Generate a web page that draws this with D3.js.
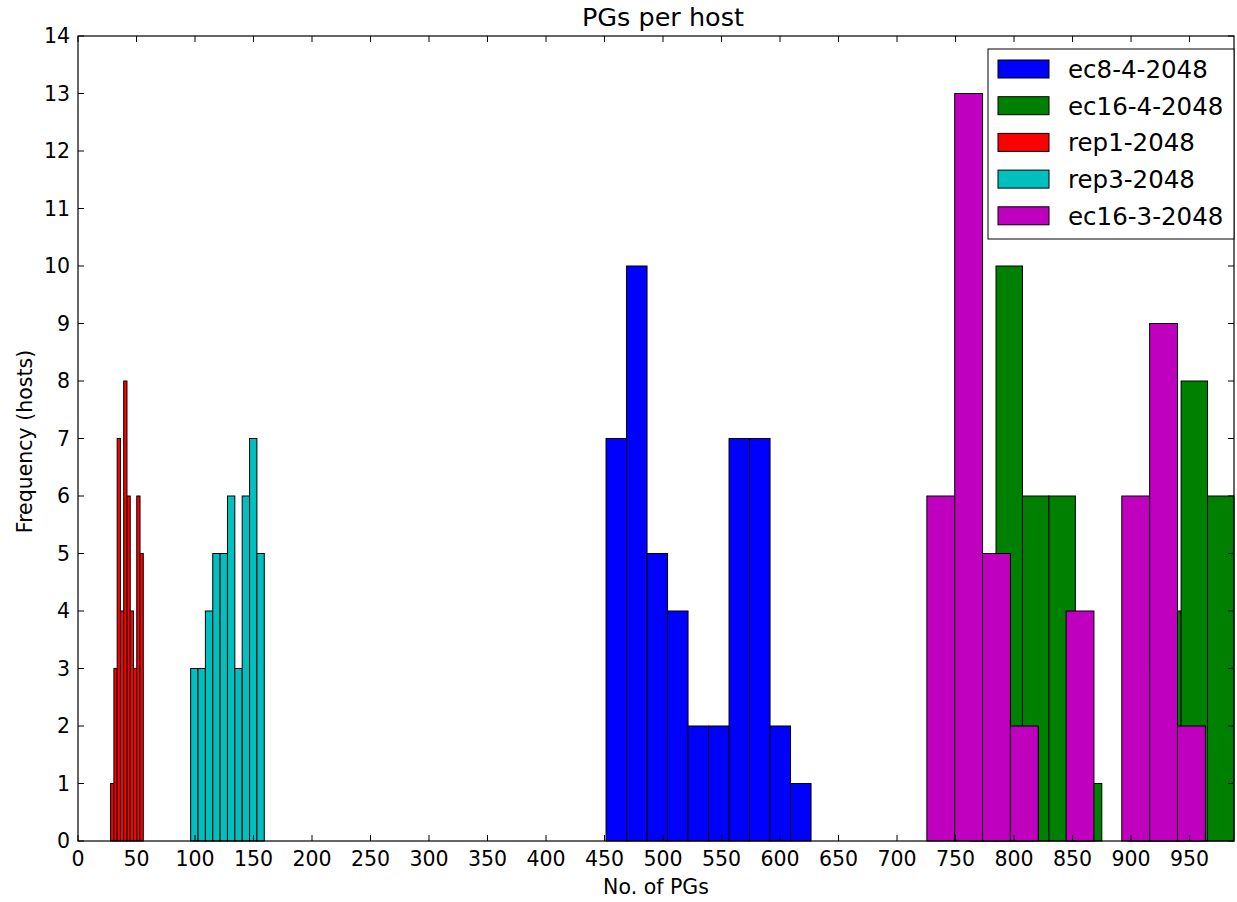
<!DOCTYPE html>
<html>
<head>
<meta charset="utf-8">
<script src="https://cdn.jsdelivr.net/npm/d3@7"></script>
<style>
  body { margin: 0; background: #fff; }
  text { font-family: "DejaVu Sans", sans-serif; fill: #000; }
</style>
</head>
<body>
<div id="chart"></div>
<script>

const seriesNames = ["ec8-4-2048", "ec16-4-2048", "rep1-2048", "rep3-2048", "ec16-3-2048"]
const seriesColors = ["#0000ff", "#008000", "#ff0000", "#00bfbf", "#bf00bf"]

// histogram ranges (min / max PGs) and counts per bin, 10 bins each
const ec8_4_range = [451.3, 626.5]
const ec8_4_counts = [7, 10, 5, 4, 2, 2, 7, 7, 2, 1]

const ec16_4_range = [762, 988]
const ec16_4_counts = [3, 10, 6, 6, 1, 0, 3, 4, 8, 6]

const rep1_range = [27.9, 55.8]
const rep1_counts = [1, 3, 7, 4, 8, 6, 4, 3, 6, 5]

const rep3_range = [96.3, 159.2]
const rep3_counts = [3, 3, 4, 5, 5, 6, 3, 6, 7, 5]

const ec16_3_range = [725.5, 963.5]
const ec16_3_counts = [6, 13, 5, 2, 0, 4, 0, 6, 9, 2]

const xTicks = d3.range(0, 951, 50)
const yTicks = d3.range(0, 15, 1)
const xDomain = [0, 988]
const yDomain = [0, 14]

const showViz = ()=>{

  const width = 1237
  const height = 902
  const left = 78, right = 1234, top = 36, bottom = 841

  let svg = d3.select("#chart")
              .append("svg")
                .attr("width", width)
                .attr("height", height)

  let x = d3.scaleLinear().domain(xDomain).range([left, right])
  let y = d3.scaleLinear().domain(yDomain).range([bottom, top])

  const all = [
    {range: ec8_4_range, counts: ec8_4_counts},
    {range: ec16_4_range, counts: ec16_4_counts},
    {range: rep1_range, counts: rep1_counts},
    {range: rep3_range, counts: rep3_counts},
    {range: ec16_3_range, counts: ec16_3_counts}
  ]

  all.forEach((s, i)=>{
    const n = s.counts.length
    const w = (s.range[1] - s.range[0]) / n
    const bins = s.counts.map((c, j)=>({x0: s.range[0] + j*w, x1: s.range[0] + (j+1)*w, c: c}))

    svg.append("g")
        .selectAll("rect")
        .data(bins.filter(d => d.c > 0))
        .join("rect")
          .attr("x", d => x(d.x0))
          .attr("width", d => x(d.x1) - x(d.x0))
          .attr("y", d => y(d.c))
          .attr("height", d => y(0) - y(d.c))
          .attr("fill", seriesColors[i])
          .attr("stroke", "#000")
          .attr("stroke-width", 1)
  })

  // ticks inward on all four sides
  const tl = 6
  let ax = svg.append("g").attr("stroke", "#000").attr("stroke-width", 1)
  xTicks.forEach(t=>{
    ax.append("line").attr("x1", x(t)).attr("x2", x(t)).attr("y1", bottom).attr("y2", bottom - tl)
    ax.append("line").attr("x1", x(t)).attr("x2", x(t)).attr("y1", top).attr("y2", top + tl)
  })
  yTicks.forEach(t=>{
    ax.append("line").attr("x1", left).attr("x2", left + tl).attr("y1", y(t)).attr("y2", y(t))
    ax.append("line").attr("x1", right).attr("x2", right - tl).attr("y1", y(t)).attr("y2", y(t))
  })

  svg.append("rect")
      .attr("x", left).attr("y", top)
      .attr("width", right - left).attr("height", bottom - top)
      .attr("fill", "none").attr("stroke", "#000").attr("stroke-width", 1.2)

  svg.append("g")
      .selectAll("text")
      .data(xTicks)
      .join("text")
        .attr("x", d => x(d))
        .attr("y", bottom + 25)
        .attr("text-anchor", "middle")
        .style("font-size", "20.5px")
        .text(d => d)

  svg.append("g")
      .selectAll("text")
      .data(yTicks)
      .join("text")
        .attr("x", left - 8)
        .attr("y", d => y(d) + 7)
        .attr("text-anchor", "end")
        .style("font-size", "20.5px")
        .text(d => d)

  svg.append("text")
      .attr("x", (left + right) / 2 + 7)
      .attr("y", 26)
      .attr("text-anchor", "middle")
      .style("font-size", "25.5px")
      .text("PGs per host")

  svg.append("text")
      .attr("x", (left + right) / 2)
      .attr("y", 894)
      .attr("text-anchor", "middle")
      .style("font-size", "20.5px")
      .text("No. of PGs")

  svg.append("text")
      .attr("transform", `translate(32, ${(top + bottom) / 2 + 3}) rotate(-90)`)
      .attr("text-anchor", "middle")
      .style("font-size", "20.5px")
      .text("Frequency (hosts)")

  // legend
  let lg = svg.append("g")
  lg.append("rect")
      .attr("x", 988).attr("y", 49)
      .attr("width", right - 988).attr("height", 190)
      .attr("fill", "#fff").attr("stroke", "#000").attr("stroke-width", 1)

  seriesNames.forEach((name, i)=>{
    const cy = 69 + i * 36.7
    lg.append("rect")
        .attr("x", 998).attr("y", cy - 9)
        .attr("width", 51).attr("height", 18)
        .attr("fill", seriesColors[i]).attr("stroke", "#000").attr("stroke-width", 1)
    lg.append("text")
        .attr("x", 1068).attr("y", cy + 9)
        .style("font-size", "24.5px")
        .text(name)
  })
}

showViz()
</script>
</body>
</html>
